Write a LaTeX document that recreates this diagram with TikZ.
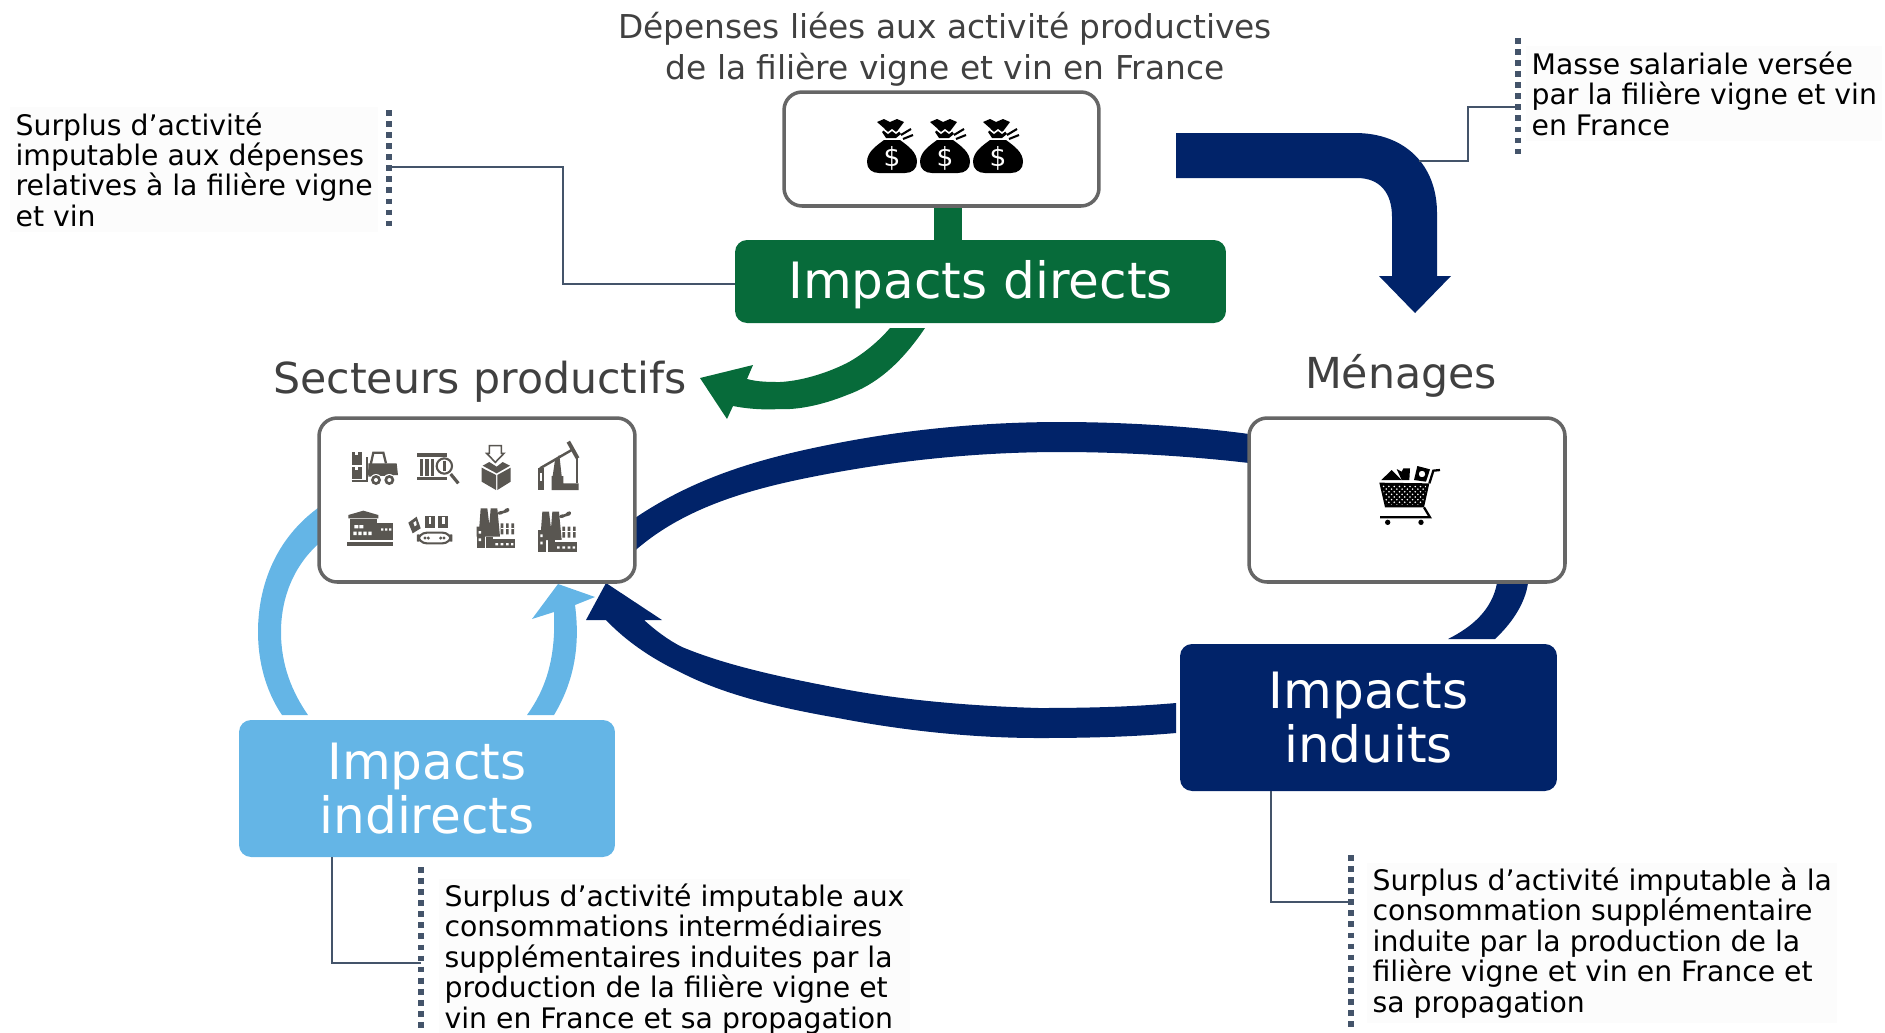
\documentclass[tikz,border=0pt]{standalone}
\usepackage{fontspec}
\setmainfont{DejaVu Sans}
\usetikzlibrary{patterns}
\definecolor{navyblue}{HTML}{012369}
\definecolor{skyblue}{HTML}{64B5E6}
\definecolor{winegreen}{HTML}{076B3A}
\definecolor{boxgrey}{HTML}{666666}
\definecolor{icongrey}{HTML}{595651}
\definecolor{leadgrey}{HTML}{44546A}
\definecolor{titlegrey}{HTML}{404040}
\tikzset{
  whitebox/.style={shape=rectangle, draw=boxgrey, fill=white, line width=2pt, rounded corners=0.36cm},
  impactbox/.style={shape=rectangle, rounded corners=0.24cm, text=white, align=center, font=\fontsize{28.5}{30.6}\selectfont},
  headtext/.style={text=titlegrey, align=center},
  calltext/.style={anchor=west, align=left, fill=black!1, inner sep=3pt, font=\fontsize{16.1}{17.3}\selectfont},
  dotbar/.style={draw=leadgrey, line width=3.1pt, dash pattern=on 3.3pt off 3pt},
  leader/.style={draw=leadgrey, line width=1.2pt},
  moneybag/.pic={
    \fill[black] (-8,-15) .. controls (-16,-9) and (-25,-3) .. (-25,7) .. controls (-25,14) and (-20,18) .. (-13,18) -- (13,18) .. controls (20,18) and (25,14) .. (25,7) .. controls (25,-3) and (16,-9) .. (8,-15) -- cycle;
    \fill[black] (-15,-33) -- (-8,-36) -- (-2,-33) -- (5,-36) -- (12,-33) -- (6,-25) -- (9,-21) -- (4,-17) -- (-6,-17) -- (-10,-23) -- (-7,-26) -- cycle;
    \draw[white, line width=0.9pt] (-9,-26) -- (-4,-22) -- (0,-25) -- (4,-22) -- (9,-26);
    \draw[black, line width=1.2pt] (9,-20) -- (19,-26) (11,-16) -- (21,-20);
    \node[text=white, inner sep=0pt, font=\fontsize{15}{15}\selectfont] (-sign) at (0,3) {\$};
  },
  factory/.pic={
    \fill[icongrey] (12,0) -- (32,0) -- (38,50) -- (42,0) -- (62,0) -- (70,85) -- (0,85) -- (0,55) -- (8,55) -- cycle;
    \fill[icongrey] (0,55) rectangle (24,120);
    \fill[icongrey] (28,85) rectangle (50,120);
    \fill[icongrey] (50,85) rectangle (115,120);
    \fill[white] (6,68) rectangle (13,76) (6,90) rectangle (13,98);
    \fill[white] (56,104) rectangle (64,111) (72,104) rectangle (80,111) (88,104) rectangle (96,111) (103,104) rectangle (110,111);
    \fill[white] (50,85) rectangle (115,92);
    \fill[icongrey] (72,45) rectangle (80,78) (88,45) rectangle (96,78) (104,45) rectangle (112,78);
    \fill[white] (72,58) rectangle (112,62);
    \fill[icongrey] (62,15) .. controls (66,5) and (78,10) .. (82,6) .. controls (88,-3) and (100,-3) .. (98,6) .. controls (96,15) and (80,12) .. (74,18) .. controls (70,20) and (64,20) .. (62,15) -- cycle;
  }
}
\begin{document}
\begin{tikzpicture}[x=0.02cm, y=-0.02cm]
\useasboundingbox (0,0) rectangle (1885,1032);
\fill[skyblue] (282,715) .. controls (265,690) and (258,660) .. (258,632) .. controls (258,580) and (280,530) .. (330,500) -- (330,535) .. controls (300,555) and (281,590) .. (281,632) .. controls (281,665) and (292,692) .. (308,715) -- cycle;
\fill[skyblue] (527,715) .. controls (545,690) and (556,660) .. (554,612) -- (532,619) -- (558,584) -- (595,597) -- (575,605) .. controls (581,650) and (572,685) .. (554,715) -- cycle;
\fill[navyblue] (1249,434) .. controls (1190,426) and (1120,422) .. (1061,422) .. controls (980,422) and (905,430) .. (838,443) .. controls (760,458) and (690,478) .. (625,525) -- (625,560) .. controls (680,505) and (760,486) .. (838,472) .. controls (905,460) and (980,452) .. (1061,452) .. controls (1120,452) and (1190,456) .. (1249,463) -- cycle;
\fill[navyblue] (1176,703) .. controls (1130,707) and (1085,708) .. (1039,708) .. controls (970,706) and (900,700) .. (838,688) .. controls (780,677) and (725,665) .. (682,647) .. controls (668,640) and (655,630) .. (644,620) -- (662,620) -- (606,583) -- (586,620) -- (606,620) .. controls (625,640) and (650,658) .. (682,673) .. controls (725,695) and (780,708) .. (838,718) .. controls (900,730) and (970,738) .. (1039,738) .. controls (1085,738) and (1130,737) .. (1176,733) -- cycle;
\fill[navyblue] (1497,575) -- (1528,575) -- (1528,583) .. controls (1525,605) and (1510,625) .. (1495,639) -- (1448,639) .. controls (1472,627) and (1492,610) .. (1497,583) -- cycle;
\fill[navyblue] (1176,133) -- (1355,133) .. controls (1405,133) and (1437,165) .. (1437,213) -- (1437,276) -- (1451,276) -- (1415,313) -- (1379,276) -- (1392,276) -- (1392,217) .. controls (1392,193) and (1380,178) .. (1357,178) -- (1176,178) -- cycle;
\fill[winegreen] (934,200) rectangle (962,245);
\fill[winegreen] (890,328) -- (925,328) .. controls (900,365) and (875,385) .. (847,395) .. controls (820,406) and (795,410) .. (780,409) .. controls (765,410) and (748,409) .. (733,406) -- (727,419) -- (700,378) -- (753,365) -- (747,379) .. controls (758,382) and (770,382) .. (780,382) .. controls (800,381) and (825,374) .. (847,363) .. controls (862,355) and (878,342) .. (890,328) -- cycle;
\node[headtext, font=\fontsize{18.7}{23.2}\selectfont] (spending) at (945,49) {Dépenses liées aux activité productives\\de la filière vigne et vin en France};
\node[headtext, font=\fontsize{24.3}{28}\selectfont] (sectors) at (480,382) {Secteurs productifs};
\node[headtext, font=\fontsize{24.3}{28}\selectfont] (households) at (1401,376) {Ménages};
\node[whitebox, minimum width=6.3cm, minimum height=2.28cm] (bags) at (941.5,149) {};
\node[whitebox, minimum width=6.32cm, minimum height=3.28cm] (sectorsbox) at (477,500) {};
\node[whitebox, minimum width=6.32cm, minimum height=3.28cm] (householdsbox) at (1407,500) {};
\node[impactbox, fill=winegreen, minimum width=9.82cm, minimum height=1.66cm, text depth=2.4pt] (directs) at (980.5,281.5) {Impacts directs};
\node[impactbox, fill=navyblue, minimum width=7.54cm, minimum height=2.94cm] (induced) at (1368.5,717.5) {Impacts\\induits};
\node[impactbox, fill=skyblue, minimum width=7.52cm, minimum height=2.74cm] (indirects) at (427,788.5) {Impacts\\indirects};
\node[calltext] (calldirects) at (10,169.5) {Surplus d’activité\\imputable aux dépenses\\relatives à la filière vigne\\et vin};
\node[calltext] (callwages) at (1526,93.5) {Masse salariale versée\\par la filière vigne et vin\\en France};
\node[calltext] (callindirects) at (439,959) {Surplus d’activité imputable aux\\consommations intermédiaires\\supplémentaires induites par la\\production de la filière vigne et\\vin en France et sa propagation};
\node[calltext] (callinduced) at (1367,943) {Surplus d’activité imputable à la\\consommation supplémentaire\\induite par la production de la\\filière vigne et vin en France et\\sa propagation};
\coordinate (barA) at (389,167);
\coordinate (elbowA) at (563,284);
\coordinate (barB) at (1518,107);
\coordinate (elbowB) at (1468,161);
\coordinate (wagesend) at (1419,161);
\coordinate (barC) at (421,963);
\coordinate (elbowC) at (332,963);
\coordinate (barD) at (1351,902);
\coordinate (elbowD) at (1271,902);
\draw[dotbar] (389,110) -- (389,228);
\draw[dotbar] (1518,38) -- (1518,158);
\draw[dotbar] (421,867) -- (421,1032);
\draw[dotbar] (1351,855) -- (1351,1032);
\draw[leader] (barA) -| (elbowA) -- (directs.west |- elbowA);
\draw[leader] (barB) -| (elbowB) -- (wagesend);
\draw[leader] (barC) -- (elbowC) -- (elbowC |- indirects.south);
\draw[leader] (barD) -- (elbowD) -- (elbowD |- induced.south);
\pic (bagA) at (892,155) {moneybag};
\pic (bagB) at (945,155) {moneybag};
\pic (bagC) at (998,155) {moneybag};
\begin{scope}[shift={(1220,400)}, scale=1/3]
\fill[black] (478,248) -- (628,250) -- (612,322) -- (495,322) -- cycle;
\fill[pattern=crosshatch dots, pattern color=white] (486,256) -- (620,258) -- (607,314) -- (500,314) -- cycle;
\fill[black] (484,240) -- (515,210) -- (545,240) -- cycle;
\fill[black] (530,207) -- (545,215) -- (550,205) -- (570,205) -- (568,240) -- (545,240) -- cycle;
\fill[black, even odd rule] (592,198) -- (630,208) -- (618,245) -- (582,240) -- cycle (606,222) circle (10);
\draw[black, line width=1.3pt] (628,250) -- (640,212) -- (660,210);
\draw[black, line width=1.3pt] (612,322) -- (630,352) -- (480,352);
\fill[black] (503,367) circle (8);
\fill[black] (603,367) circle (8);
\end{scope}
\begin{scope}[shift={(300,400)}, scale=1/3]
\fill[icongrey] (155,155) rectangle (185,195);
\fill[icongrey] (155,200) rectangle (185,238);
\fill[white] (165,155) rectangle (175,165);
\fill[white] (165,200) rectangle (175,210);
\draw[icongrey, line width=1pt] (155,243) -- (200,243) -- (200,170);
\draw[icongrey, line width=1.3pt] (205,225) -- (220,158) -- (250,158) -- (258,190);
\fill[icongrey] (205,190) -- (290,190) -- (294,225) -- (205,230) -- cycle;
\fill[white] (228,240) circle (18);
\fill[white] (268,240) circle (18);
\fill[icongrey] (228,240) circle (15);
\fill[icongrey] (268,240) circle (15);
\fill[white] (228,240) circle (6);
\fill[white] (268,240) circle (6);
\fill[icongrey] (352,160) rectangle (440,172);
\fill[icongrey] (352,232) rectangle (440,240);
\fill[icongrey] (360,176) rectangle (370,228);
\fill[icongrey] (376,176) rectangle (386,228);
\fill[icongrey] (392,176) rectangle (402,228);
\fill[white] (433,198) circle (27);
\draw[icongrey, line width=1.2pt] (433,198) circle (23);
\fill[icongrey] (428,183) rectangle (437,213);
\draw[icongrey, line width=1.8pt] (452,222) -- (475,250);
\fill[icongrey] (545,203) -- (588,225) -- (588,270) -- (545,245) -- cycle;
\fill[icongrey] (632,203) -- (592,225) -- (592,270) -- (632,245) -- cycle;
\fill[icongrey] (548,197) -- (568,186) -- (590,200) -- (608,186) -- (630,197) -- (590,220) -- cycle;
\fill[white] (568,137) -- (604,137) -- (604,160) -- (612,160) -- (586,187) -- (560,160) -- (568,160) -- cycle;
\draw[icongrey, line width=0.9pt] (568,137) -- (604,137) -- (604,160) -- (612,160) -- (586,187) -- (560,160) -- (568,160) -- cycle;
\fill[icongrey] (800,128) -- (810,122) -- (838,172) -- (828,178) -- cycle;
\draw[icongrey, line width=1.4pt] (720,205) -- (815,150);
\draw[icongrey, line width=1.1pt] (830,170) -- (830,250);
\fill[icongrey] (765,180) -- (778,165) -- (785,228) -- (758,228) -- cycle;
\fill[icongrey] (755,228) -- (790,228) -- (790,250) -- (836,250) -- (836,270) -- (755,270) -- cycle;
\fill[icongrey] (715,205) rectangle (732,220);
\fill[icongrey] (713,242) rectangle (733,270);
\draw[icongrey, line width=1pt] (718,220) -- (718,242) (728,220) -- (728,242);
\fill[icongrey] (145,345) -- (190,332) -- (235,345) -- (235,355) -- (145,355) -- cycle;
\fill[icongrey] (150,358) rectangle (232,420);
\fill[icongrey] (232,370) rectangle (280,420);
\fill[white] (163,375) rectangle (175,385) (178,375) rectangle (190,385);
\fill[white] (160,395) rectangle (170,405) (175,395) rectangle (185,405) (190,395) rectangle (200,405) (205,395) rectangle (215,405);
\fill[white] (243,385) rectangle (250,392) (255,385) rectangle (262,392) (267,385) rectangle (274,392);
\fill[icongrey] (142,427) rectangle (280,438);
\fill[icongrey] (325,368) -- (350,350) -- (362,385) -- (338,400) -- cycle;
\fill[white] (340,368) -- (348,363) -- (350,375) -- (344,379) -- cycle;
\fill[icongrey] (375,347) rectangle (405,385);
\fill[icongrey] (415,347) rectangle (445,385);
\fill[white] (386,350) rectangle (394,372);
\fill[white] (426,350) rectangle (434,372);
\draw[icongrey, line width=1.2pt, rounded corners=5pt] (354,398) rectangle (454,430);
\fill[icongrey] (375,414) circle (5);
\fill[icongrey] (385,414) circle (5);
\fill[icongrey] (422,414) circle (5);
\fill[icongrey] (432,414) circle (5);
\pic[transform shape] at (530,325) {factory};
\pic[transform shape] at (715,335) {factory};
\end{scope}
\end{tikzpicture}
\end{document}
